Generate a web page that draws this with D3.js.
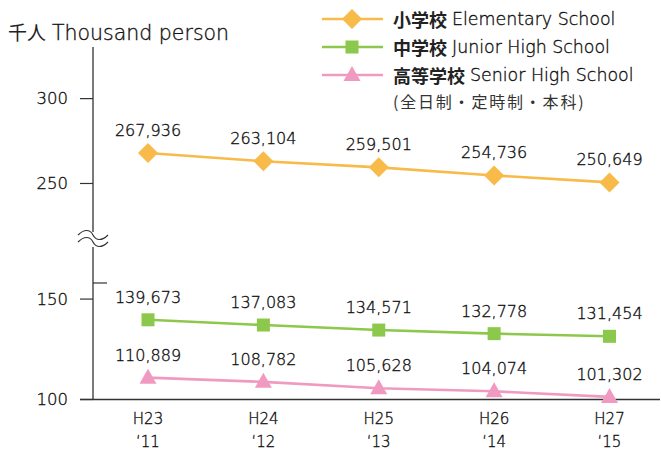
<!DOCTYPE html>
<html>
<head>
<meta charset="utf-8">
<script src="https://cdn.jsdelivr.net/npm/d3@7"></script>
<style>
  html, body { margin: 0; padding: 0; background: #ffffff; }
  .lt { font-family: 'DejaVu Sans', 'Noto Sans CJK JP', sans-serif; font-weight: 200;
        fill: #111111; stroke: #111111; stroke-width: 0.35px; }
</style>
</head>
<body>
<div id="chart"></div>
<script>
// 数据
const years = ["H23", "H24", "H25", "H26", "H27"];
const westernYears = ["‘11", "‘12", "‘13", "‘14", "‘15"];
const elementary = [267936, 263104, 259501, 254736, 250649];
const juniorHigh = [139673, 137083, 134571, 132778, 131454];
const seniorHigh = [110889, 108782, 105628, 104074, 101302];
const upperTicks = [250, 300];
const lowerTicks = [100, 150];

const series = [
    { jp: "小学校", en: "Elementary School", values: elementary, color: "#f8ba48", shape: "diamond", upper: true },
    { jp: "中学校", en: "Junior High School", values: juniorHigh, color: "#8cc84b", shape: "square", upper: false },
    { jp: "高等学校", en: "Senior High School", values: seniorHigh, color: "#f19ac1", shape: "triangle", upper: false }
];

const width = 661;
const height = 452;
const jpFont = "'Noto Sans CJK JP', sans-serif";
const textColor = "#222222";
const axisColor = "#333333";
const axisX = 93;

const svg = d3.select("#chart")
    .append("svg")
    .attr("width", width)
    .attr("height", height)
    .attr("viewBox", `0 0 ${width} ${height}`);

// 比例尺：上下两段（断轴）
const xScale = d3.scalePoint().domain(years).range([148, 609.5]);
const yUpper = d3.scaleLinear().domain([222, 331]).range([231, 46]);
const yLower = d3.scaleLinear().domain([100, 158]).range([399.5, 283]);
const yFor = (s, v) => (s.upper ? yUpper : yLower)(v / 1000);
const baseY = yLower(100);

// 单位标题
const title = svg.append("text")
    .attr("x", 8)
    .attr("y", 40)
    .style("fill", textColor);
title.append("tspan").style("font-family", jpFont).style("font-size", "19px").text("千人");
title.append("tspan").attr("class", "lt").attr("dx", 6)
    .style("font-size", "20.5px").text("Thousand person");

// y轴（上段）
svg.append("line")
    .attr("x1", axisX).attr("x2", axisX)
    .attr("y1", 47).attr("y2", 232)
    .attr("stroke", axisColor).attr("stroke-width", 1.3);

// y轴（下段）
svg.append("line")
    .attr("x1", axisX).attr("x2", axisX)
    .attr("y1", 247).attr("y2", baseY)
    .attr("stroke", axisColor).attr("stroke-width", 1.3);

// 断轴波浪线
[235, 242].forEach(y => {
    svg.append("path")
        .attr("d", `M78,${y} C84,${y - 6} 90,${y - 6} ${axisX},${y} S102,${y + 6} 108,${y}`)
        .attr("fill", "none")
        .attr("stroke", axisColor)
        .attr("stroke-width", 1.2);
});

// 下段上端的小刻度（向右）
svg.append("line")
    .attr("x1", axisX).attr("x2", axisX + 14)
    .attr("y1", yLower(158)).attr("y2", yLower(158))
    .attr("stroke", axisColor).attr("stroke-width", 1.2);

// y轴刻度与标签
const tickList = upperTicks.map(t => ({ t, y: yUpper(t) }))
    .concat(lowerTicks.map(t => ({ t, y: yLower(t) })));
tickList.forEach(d => {
    svg.append("line")
        .attr("x1", 80).attr("x2", axisX)
        .attr("y1", d.y).attr("y2", d.y)
        .attr("stroke", axisColor).attr("stroke-width", 1.2);
    svg.append("text")
        .attr("class", "lt")
        .attr("x", 68)
        .attr("y", d.y)
        .attr("text-anchor", "end")
        .attr("dominant-baseline", "central")
        .style("font-size", "16.5px")
        .text(d.t);
});

// x轴线
svg.append("line")
    .attr("x1", 80).attr("x2", 660)
    .attr("y1", baseY).attr("y2", baseY)
    .attr("stroke", axisColor).attr("stroke-width", 1.3);

// x轴标签
years.forEach((yr, i) => {
    [yr, westernYears[i]].forEach((label, j) => {
        svg.append("text")
            .attr("class", "lt")
            .attr("x", xScale(yr))
            .attr("y", 424 + j * 23)
            .attr("text-anchor", "middle")
            .style("font-size", "15px")
            .text(label);
    });
});

// 标记形状
function drawMarker(sel, shape, x, y, color) {
    if (shape === "diamond") {
        sel.append("path")
            .attr("d", `M${x},${y - 10} L${x + 10},${y} L${x},${y + 10} L${x - 10},${y} Z`)
            .attr("fill", color);
    } else if (shape === "square") {
        sel.append("rect")
            .attr("x", x - 6.5).attr("y", y - 6.5)
            .attr("width", 13).attr("height", 13)
            .attr("fill", color);
    } else {
        sel.append("path")
            .attr("d", `M${x},${y - 9} L${x + 8.5},${y + 6} L${x - 8.5},${y + 6} Z`)
            .attr("fill", color);
    }
}

// 折线、标记和数值标签
series.forEach(s => {
    const line = d3.line()
        .x((d, i) => xScale(years[i]))
        .y(d => yFor(s, d));

    svg.append("path")
        .datum(s.values)
        .attr("d", line)
        .attr("fill", "none")
        .attr("stroke", s.color)
        .attr("stroke-width", 2.6);

    s.values.forEach((v, i) => {
        const x = xScale(years[i]);
        const y = yFor(s, v);
        drawMarker(svg, s.shape, x, y, s.color);
        svg.append("text")
            .attr("class", "lt")
            .attr("x", x)
            .attr("y", y - 17)
            .attr("text-anchor", "middle")
            .style("font-size", "16px")
            .text(d3.format(",")(v));
    });
});

// 图例
series.forEach((s, i) => {
    const ly = 19 + i * 28;
    svg.append("line")
        .attr("x1", 322).attr("x2", 383)
        .attr("y1", ly).attr("y2", ly)
        .attr("stroke", s.color)
        .attr("stroke-width", 2.6);
    drawMarker(svg, s.shape, 352, ly, s.color);
    const t = svg.append("text")
        .attr("x", 393)
        .attr("y", ly)
        .attr("dominant-baseline", "central")
        .style("fill", textColor);
    t.append("tspan")
        .style("font-family", jpFont)
        .style("font-size", "18px")
        .style("font-weight", "bold")
        .text(s.jp);
    t.append("tspan")
        .attr("class", "lt")
        .attr("dx", 5)
        .style("font-size", "17.4px")
        .text(s.en);
});

svg.append("text")
    .attr("x", 393)
    .attr("y", 101)
    .attr("dominant-baseline", "central")
    .style("font-family", jpFont)
    .style("font-size", "16px")
    .style("letter-spacing", "1.8px")
    .style("fill", "#333333")
    .text("(全日制・定時制・本科)");
</script>
</body>
</html>
